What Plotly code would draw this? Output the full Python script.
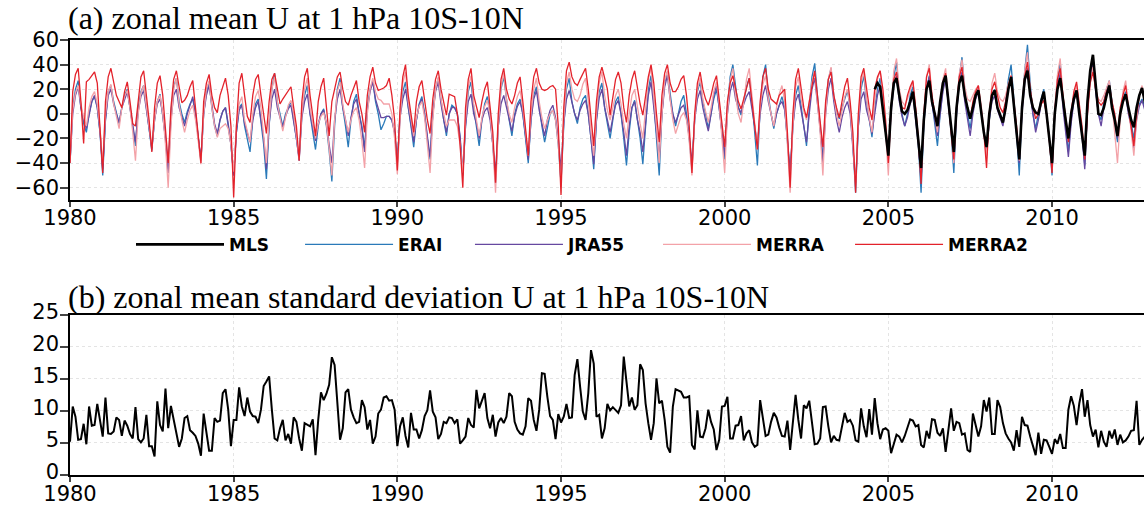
import plotly.graph_objects as go

# monthly values, Jan 1980 - Dec 2012, one row per year (m/s)
erai = [
    -40, 5, 20, 27, 5, -8, -15, 0, 10, 14, 5, -15,
    -50, -5, 18, 23, 10, 0, -8, 5, 15, 20, 5, -10,
    -26, 5, 18, 23, 5, -15, -30, -5, 10, 16, 0, -20,
    -45, 0, 22, 29, 10, 0, -7, 2, 8, 12, 0, -20,
    -38, 0, 18, 26, 5, -10, -18, -5, 2, 5, -10, -25,
    -50, -15, 5, 8, -10, -20, -31, -5, 8, 12, -5, -25,
    -53, -10, 20, 33, 10, 0, -10, 0, 5, 10, -5, -20,
    -36, 0, 15, 23, 0, -15, -29, -10, 0, 4, -10, -30,
    -55, -10, 20, 29, 5, -10, -27, -5, 10, 16, 0, -10,
    -28, 5, 20, 27, 10, 0, -13, -8, -2, -2, -5, -15,
    -40, 0, 18, 26, 5, -10, -27, -5, 8, 14, 0, -20,
    -37, 0, 20, 29, 10, -5, -18, 0, 7, 5, 0, -20,
    -50, -10, 18, 26, 5, -10, -26, -5, 8, 14, 0, -25,
    -56, -10, 20, 30, 10, -5, -18, 0, 8, 12, 0, -20,
    -40, -5, 15, 22, 5, -10, -23, -10, 0, 3, -5, -25,
    -56, -10, 20, 29, 10, 0, -8, 5, 12, 15, 0, -20,
    -45, -5, 18, 25, 5, -8, -20, -5, 10, 14, 0, -20,
    -42, -15, 5, 11, -5, -20, -41, -10, 20, 31, 10, -20,
    -50, 0, 25, 34, 15, 0, -10, 0, 10, 15, 0, -20,
    -45, -5, 18, 26, 10, 0, -12, 0, 12, 20, 5, -15,
    -37, 5, 30, 40, 20, 5, -1, 10, 22, 29, 10, -15,
    -42, 5, 30, 40, 15, 0, -12, 0, 8, 14, 5, -20,
    -50, -10, 15, 23, 5, -10, -26, 5, 30, 41, 15, -10,
    -37, 5, 28, 37, 15, 2, -4, 5, 12, 19, 5, -25,
    -64, -10, 20, 31, 10, -5, -19, 5, 20, 29, 10, -15,
    -37, 5, 30, 42, 15, 0, -10, 0, 15, 22, 0, -25,
    -64, -10, 20, 31, 10, -10, -26, 0, 20, 31, 10, -15,
    -48, 0, 30, 46, 20, 0, -12, 5, 15, 20, 5, -15,
    -32, -5, 15, 20, 5, 0, -7, 10, 28, 40, 15, -15,
    -50, 5, 35, 56, 25, 0, -12, 0, 12, 20, 0, -20,
    -50, 0, 28, 42, 10, -10, -31, -5, 12, 19, 0, -15,
    -42, 5, 30, 42, 20, 0, -5, 10, 20, 27, 10, -5,
    -23, 0, 12, 18, 5, -5, -20, 0, 8, 12, 5, -5,
]

jra55 = [
    -40, 0, 15, 22, 5, -5, -12, 0, 10, 15, 5, -15,
    -45, -5, 15, 20, 8, 0, -7, 5, 12, 18, 5, -10,
    -23, 2, 14, 19, 5, -12, -28, -5, 8, 12, 0, -20,
    -48, -5, 15, 20, 5, -3, -10, 0, 8, 14, 0, -18,
    -37, 0, 15, 23, 5, -8, -16, -5, 2, 5, -8, -25,
    -50, -15, 3, 7, -8, -15, -23, -5, 5, 10, -5, -20,
    -45, -8, 12, 20, 5, -3, -11, -2, 4, 7, -5, -20,
    -38, -3, 10, 16, 0, -10, -22, -8, 0, 3, -8, -25,
    -40, -5, 12, 20, 5, -5, -18, -3, 8, 12, 0, -12,
    -31, 3, 18, 26, 12, 5, -3, -3, -2, -2, -5, -15,
    -40, -3, 12, 20, 5, -8, -23, -5, 7, 12, 0, -18,
    -35, 0, 18, 26, 8, -5, -15, 0, 5, 5, 0, -18,
    -48, -10, 10, 16, 0, -8, -20, -5, 2, 5, -5, -25,
    -48, -10, 8, 15, 5, -5, -14, -2, 6, 10, 0, -18,
    -37, -5, 12, 19, 3, -8, -18, -5, 3, 7, -3, -20,
    -45, -8, 12, 19, 8, 0, -5, 3, 8, 11, 0, -18,
    -41, -5, 13, 20, 5, -5, -15, -3, 7, 11, 0, -15,
    -34, -10, 5, 10, -5, -15, -31, -8, 15, 26, 8, -15,
    -37, 0, 22, 31, 12, 0, -7, 0, 5, 7, -3, -18,
    -40, -5, 12, 19, 5, -5, -14, 0, 15, 23, 5, -15,
    -34, 0, 18, 26, 12, 5, 1, 8, 14, 18, 5, -10,
    -26, 0, 15, 23, 10, 0, -10, 0, 7, 10, 3, -20,
    -48, -10, 10, 16, 3, -8, -23, 0, 20, 29, 10, -12,
    -40, 0, 20, 29, 10, -5, -15, -3, 5, 10, 0, -25,
    -56, -10, 12, 18, 3, -5, -16, 0, 15, 23, 8, -15,
    -38, 0, 22, 31, 10, -2, -10, -3, 8, 15, -5, -25,
    -53, -8, 20, 30, 8, -5, -18, 0, 18, 28, 8, -12,
    -40, 0, 25, 34, 10, -5, -18, 0, 12, 18, 3, -15,
    -34, -5, 10, 15, 3, -3, -10, 5, 20, 30, 8, -15,
    -40, 0, 25, 37, 15, 0, -15, -5, 8, 15, 0, -20,
    -45, 0, 22, 33, 5, -15, -35, -8, 10, 18, 0, -18,
    -45, 3, 28, 40, 18, 0, -10, 5, 15, 20, 5, -5,
    -20, 0, 10, 15, 0, -10, -28, -5, 6, 11, 3, -5,
]

merra = [
    -40, 3, 17, 23, 8, -3, -10, 5, 14, 18, 8, -12,
    -40, 0, 18, 24, 8, -3, -12, 5, 14, 19, 5, -15,
    -38, 0, 17, 23, 5, -12, -27, -5, 10, 15, 0, -25,
    -60, -10, 20, 29, 8, -5, -15, -5, 3, 7, -5, -22,
    -41, 0, 20, 27, 5, -10, -19, -12, -10, -8, -12, -25,
    -47, -10, 8, 14, -5, -15, -23, 0, 14, 19, 5, -18,
    -40, -5, 20, 30, 10, -3, -14, -3, 7, 11, 0, -18,
    -37, 0, 20, 29, 5, -8, -20, -8, -2, 1, -8, -28,
    -50, -5, 18, 26, 8, -5, -15, -5, 2, 5, -5, -22,
    -44, 0, 20, 29, 18, 12, 11, 8, 8, 8, 0, -20,
    -49, -5, 25, 34, 10, -5, -18, -3, 6, 10, -3, -25,
    -48, -5, 20, 30, 12, 0, -10, -5, -5, -5, -10, -25,
    -48, -5, 22, 31, 8, -5, -18, -3, 6, 11, 0, -25,
    -64, -10, 22, 33, 12, 0, -7, 5, 14, 19, 5, -15,
    -34, 0, 20, 29, 10, -3, -12, -5, 0, 3, -5, -25,
    -56, -5, 25, 34, 20, 12, 10, 15, 24, 29, 10, -15,
    -34, 0, 25, 34, 15, 3, -5, 5, 15, 20, 8, -8,
    -20, 0, 15, 20, 5, -8, -20, 5, 28, 37, 15, -10,
    -40, 0, 27, 35, 12, -5, -16, -8, -2, 1, -5, -22,
    -50, -5, 20, 29, 12, 2, -7, 5, 18, 26, 8, -20,
    -48, 0, 27, 37, 15, 0, -7, 10, 28, 37, 15, -8,
    -29, 5, 24, 31, 12, 0, -10, 5, 16, 23, 10, -25,
    -64, -10, 22, 30, 12, 2, -5, 10, 26, 34, 12, -15,
    -50, 0, 28, 38, 15, 0, -10, 3, 14, 20, 5, -25,
    -59, -5, 25, 34, 12, -3, -15, 10, 28, 35, 15, -15,
    -50, 5, 35, 45, 20, 10, 7, 12, 20, 26, 5, -20,
    -50, -5, 30, 40, 15, 0, -15, 10, 28, 37, 12, -12,
    -40, 5, 32, 44, 22, 12, 10, 15, 20, 23, 8, -12,
    -36, 0, 25, 33, 18, 12, 10, 15, 25, 31, 10, -12,
    -38, 5, 35, 50, 20, 5, 0, 3, 8, 11, 0, -20,
    -45, 5, 32, 45, 15, -3, -18, 3, 16, 23, 5, -12,
    -34, 5, 28, 38, 20, 12, 10, 15, 22, 27, 8, -15,
    -40, -5, 18, 27, 5, -15, -34, -5, 15, 23, 10, 0,
]

merra2 = [
    -40, 18, 32, 37, 10, -24, 26, 28, 31, 34, 25, -10,
    -48, 10, 30, 37, 25, 15, 10, 5, 18, 26, 10, -8,
    -10, 10, 30, 35, 15, -5, -31, 5, 25, 31, 15, -10,
    -40, 5, 28, 35, 20, 9, 11, 15, 22, 27, 5, -20,
    -40, 10, 25, 32, 15, 5, 1, 15, 22, 29, 15, -10,
    -68, -10, 25, 33, 15, -2, -7, 15, 28, 32, 15, 0,
    -16, 10, 28, 33, 20, 8, 12, 15, 18, 22, 5, -10,
    -38, 10, 30, 37, 15, 0, -18, 10, 22, 29, 5, -18,
    10, 20, 30, 34, 20, 10, 7, 15, 22, 27, 10, 0,
    -15, 15, 30, 38, 25, 19, 20, 21, 23, 29, 15, -5,
    -46, 5, 30, 40, 15, 0, -15, 10, 22, 27, 10, -5,
    -16, 12, 28, 35, 20, 8, -1, 16, 15, 14, 0, -25,
    -60, 5, 28, 37, 15, 5, -3, 10, 20, 26, 5, -15,
    -56, 0, 28, 37, 20, 12, 8, 15, 25, 30, 10, -10,
    -34, 10, 30, 37, 25, 20, 19, 20, 22, 23, 20, -10,
    -66, 5, 35, 42, 30, 25, 23, 28, 33, 37, 20, -5,
    -26, 10, 30, 38, 30, 20, -1, 15, 28, 34, 25, 5,
    -7, 15, 28, 35, 20, 8, -1, 15, 30, 40, 25, 0,
    -23, 15, 33, 40, 25, 18, 18, 22, 28, 31, 15, -10,
    -48, 0, 25, 34, 20, 12, 7, 15, 25, 31, 10, -10,
    -27, 10, 25, 31, 20, 10, 4, 12, 22, 29, 10, -10,
    -29, 10, 30, 37, 20, 12, 10, 8, 15, 18, 20, -15,
    -60, 0, 28, 37, 20, 5, -3, 10, 25, 35, 15, -5,
    -27, 10, 28, 34, 15, 5, -3, 10, 22, 29, 10, -15,
    -64, 0, 30, 37, 20, 5, -5, 20, 30, 35, 20, -5,
    -40, 5, 28, 34, 15, 5, 4, 15, 22, 27, 5, -20,
    -57, 0, 30, 37, 15, 0, -7, 10, 25, 33, 10, -10,
    -37, 5, 30, 38, 15, 5, -4, 10, 18, 23, 5, -15,
    -44, 0, 20, 26, 15, 5, 1, 10, 22, 31, 10, -10,
    -37, 5, 30, 42, 20, 5, -4, 0, 8, 11, 0, -20,
    -48, 0, 28, 37, 15, -5, -23, 0, 18, 26, 10, -10,
    -37, 0, 25, 34, 20, 10, 7, 10, 18, 23, 10, 0,
    -18, 5, 15, 23, 5, -10, -26, 0, 15, 20, 10, 0,
]

# MLS starts in August 2004
mls_start = 295
mls = [
    20, 25, 22, 5, -15,
    -34, 5, 25, 29, 15, 2, 0, 3, 10, 18, 0, -20,
    -44, -5, 20, 27, 10, 0, -10, 10, 25, 31, 10, -10,
    -31, 5, 25, 31, 15, 5, -4, 5, 15, 19, 0, -15,
    -27, 0, 15, 19, 5, -2, -7, 5, 20, 30, 10, -15,
    -37, 5, 28, 35, 15, 5, 1, 0, 10, 18, 0, -20,
    -40, 0, 20, 29, 10, -5, -20, 0, 12, 19, 0, -15,
    -34, 10, 35, 48, 25, 0, -1, 5, 15, 23, 5, -5,
    -18, 0, 10, 16, 5, -5, -11, 5, 15, 21, 10, 0,
]

std_u = [
    5.2, 10.7, 9.1, 5.5, 5.6, 8.0, 4.8, 10.7, 7.7, 7.8, 11.1, 8.6,
    6.0, 12.1, 6.5, 6.4, 6.8, 9.0, 8.6, 6.1, 8.5, 7.7, 6.4, 5.7,
    10.6, 5.6, 5.1, 5.7, 9.4, 4.5, 4.5, 2.9, 11.5, 7.8, 6.8, 13.5,
    7.3, 10.8, 8.6, 6.5, 4.4, 5.7, 8.9, 9.2, 7.0, 6.6, 6.1, 4.9,
    3.0, 9.6, 6.8, 3.8, 3.8, 8.9, 8.3, 8.5, 12.8, 13.4, 10.2, 4.5,
    8.6, 8.6, 13.7, 10.7, 9.2, 12.1, 9.9, 9.2, 9.1, 8.1, 10.2, 13.9,
    14.6, 15.4, 10.2, 5.7, 5.4, 7.3, 8.6, 5.4, 6.4, 4.9, 9.0, 8.3,
    5.7, 3.8, 8.1, 7.8, 7.6, 8.7, 3.1, 8.6, 12.9, 11.7, 12.7, 14.1,
    18.4, 17.2, 10.7, 5.5, 7.3, 12.9, 13.4, 10.2, 9.0, 8.1, 8.3, 11.7,
    10.6, 7.1, 8.6, 4.9, 6.0, 9.6, 10.2, 12.1, 12.3, 11.6, 11.7, 10.2,
    4.5, 7.6, 9.0, 6.1, 4.3, 9.7, 7.1, 7.1, 5.7, 7.0, 9.2, 10.1,
    13.2, 9.9, 9.0, 5.6, 6.4, 8.3, 8.1, 9.0, 8.9, 8.1, 8.7, 4.9,
    5.4, 6.0, 8.9, 7.8, 7.4, 13.3, 10.4, 11.5, 12.8, 8.9, 7.3, 9.4,
    6.0, 8.2, 8.9, 8.1, 9.1, 12.8, 12.3, 8.3, 7.1, 6.5, 6.3, 7.6,
    12.0, 11.6, 8.6, 6.9, 10.2, 15.9, 15.8, 12.2, 9.2, 8.6, 5.6, 9.5,
    8.2, 9.1, 11.1, 8.9, 9.0, 15.6, 18.1, 13.8, 9.9, 8.6, 12.8, 19.5,
    17.4, 9.1, 9.4, 5.7, 7.3, 11.1, 10.1, 10.6, 10.2, 9.7, 10.9, 18.5,
    14.6, 10.7, 12.1, 10.2, 10.9, 17.3, 16.4, 11.2, 8.1, 5.5, 8.1, 15.1,
    11.2, 11.6, 8.6, 4.4, 3.5, 10.7, 13.4, 13.2, 13.0, 12.1, 12.1, 12.3,
    4.7, 4.0, 10.1, 6.0, 5.9, 7.3, 10.2, 8.3, 7.1, 3.9, 5.5, 10.7,
    10.8, 12.2, 5.7, 5.7, 7.7, 7.8, 9.2, 5.4, 6.5, 7.0, 5.1, 4.4,
    4.7, 11.7, 8.9, 6.1, 6.3, 8.3, 9.7, 9.0, 7.4, 6.1, 6.0, 8.5,
    3.9, 8.3, 12.5, 8.6, 5.7, 10.9, 10.4, 11.6, 8.1, 4.8, 4.9, 5.7,
    10.6, 10.7, 7.6, 5.1, 6.1, 5.5, 5.4, 7.6, 9.7, 8.3, 8.6, 7.7,
    5.4, 5.2, 10.4, 7.6, 5.9, 10.3, 6.3, 12.0, 8.1, 5.6, 7.1, 7.3,
    6.9, 3.4, 4.9, 6.3, 6.0, 5.1, 6.1, 7.6, 8.7, 8.5, 7.6, 7.8,
    4.7, 4.3, 6.9, 5.7, 8.7, 8.6, 6.6, 6.1, 7.3, 3.6, 7.4, 10.4,
    6.9, 8.3, 8.1, 6.3, 6.5, 3.9, 3.6, 9.6, 7.8, 6.0, 7.6, 11.7,
    9.9, 12.1, 6.4, 6.4, 11.7, 10.6, 8.1, 6.5, 5.7, 5.1, 3.8, 7.0,
    4.4, 9.1, 7.8, 7.7, 6.0, 4.4, 3.1, 6.6, 3.3, 5.5, 5.4, 4.4,
    3.3, 5.6, 4.9, 6.4, 4.2, 4.2, 10.2, 12.3, 10.8, 7.8, 11.2, 13.4,
    9.1, 11.7, 7.8, 6.0, 7.1, 4.3, 6.9, 5.2, 4.4, 6.9, 5.7, 7.1,
    4.7, 6.3, 5.1, 5.4, 6.0, 6.9, 7.0, 11.6, 4.7, 5.5, 6.0, 5.5,
]

time = [1980 + i / 12 for i in range(len(std_u))]
time_mls = [1980 + (mls_start + i) / 12 for i in range(len(mls))]

# name, values, colour, legend id, legend x (paper)
series = [
    ("ERAI", erai, "#2a7ab9", "legend2", 0.2142),
    ("JRA55", jra55, "#6648a0", "legend3", 0.3724),
    ("MERRA", merra, "#f3a2a8", "legend4", 0.5475),
    ("MERRA2", merra2, "#e3222b", "legend5", 0.7263),
]

fig = go.Figure()
for name, vals, col, leg, lx in series:
    fig.add_trace(go.Scatter(x=time, y=vals, name=name, mode="lines",
                             line=dict(color=col, width=1.3), legend=leg))
fig.add_trace(go.Scatter(x=time_mls, y=mls, name="MLS", mode="lines",
                         line=dict(color="black", width=2.6), legend="legend"))
fig.add_trace(go.Scatter(x=time, y=std_u, mode="lines", showlegend=False,
                         line=dict(color="black", width=2), xaxis="x2", yaxis="y2"))

tickfont = dict(family="DejaVu Sans", size=21, color="black")
xcommon = dict(range=[1980, 2012.81], tick0=1980, dtick=5, ticks="outside", ticklen=5,
               tickwidth=1.5, showline=True, linecolor="black", linewidth=1.5, mirror=True,
               showgrid=True, gridcolor="#e4e4e4", griddash="dot", gridwidth=1,
               zeroline=False, tickfont=tickfont, automargin=False)
ycommon = dict(ticks="outside", ticklen=8, tickwidth=1.5, showline=True, linecolor="black",
               linewidth=1.5, showgrid=True, gridcolor="#e4e4e4", griddash="dot",
               zeroline=False, tickfont=tickfont, automargin=False, ticklabelstandoff=-3)

legfont = dict(family="DejaVu Sans", size=17, color="black", weight="bold")


def leg_box(x):
    return dict(orientation="h", x=x, y=0.518, xanchor="left", yanchor="middle",
                itemwidth=88, font=legfont, bgcolor="rgba(0,0,0,0)")


fig.update_layout(
    width=1144, height=508,
    margin=dict(l=70, r=0, t=0, b=0, autoexpand=False),
    paper_bgcolor="white", plot_bgcolor="white",
    xaxis=dict(domain=[0, 1], anchor="y", ticklabelstandoff=-7, **xcommon),
    yaxis=dict(domain=[0.6063, 0.9213], anchor="x", range=[-70, 60], dtick=20, **ycommon),
    xaxis2=dict(domain=[0, 1], anchor="y2", ticklabelstandoff=-6, **xcommon),
    yaxis2=dict(domain=[0.065, 0.380], anchor="x2", range=[0, 25], dtick=5,
                ticklabelshift=-3, **ycommon),
    legend=leg_box(0.0568),
    annotations=[
        dict(text="(a) zonal mean U at 1 hPa 10S-10N", xref="paper", yref="paper",
             x=0, y=0.9646, xanchor="left", yanchor="middle", showarrow=False, xshift=-4,
             font=dict(family="Liberation Serif", size=32, color="black")),
        dict(text="(b) zonal mean standard deviation U at 1 hPa 10S-10N", xref="paper",
             yref="paper", x=0, y=0.4154, xanchor="left", yanchor="middle", showarrow=False,
             xshift=-4, font=dict(family="Liberation Serif", size=32, color="black")),
    ],
)
for name, vals, col, leg, lx in series:
    fig.update_layout({leg: leg_box(lx)})

fig.write_html("out.html", config={"displayModeBar": False},
               post_script="document.body.style.margin='0';")
